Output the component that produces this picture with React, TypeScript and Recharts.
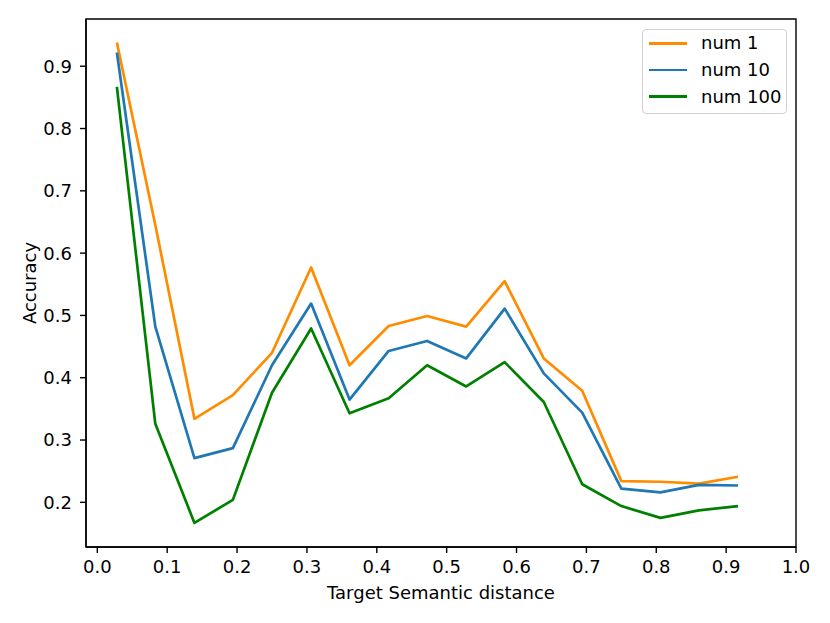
import React from 'react';
import { LineChart, Line, XAxis, YAxis, Legend, ReferenceArea } from 'recharts';

const distances = [0.028, 0.083, 0.139, 0.194, 0.25, 0.306, 0.361, 0.417, 0.472, 0.528, 0.583, 0.639, 0.694, 0.75, 0.806, 0.861, 0.917];
const num1 = [0.938, 0.645, 0.334, 0.372, 0.44, 0.577, 0.42, 0.483, 0.499, 0.482, 0.555, 0.431, 0.379, 0.234, 0.233, 0.23, 0.241];
const num10 = [0.922, 0.482, 0.271, 0.287, 0.42, 0.519, 0.365, 0.443, 0.459, 0.431, 0.511, 0.407, 0.344, 0.222, 0.216, 0.228, 0.227];
const num100 = [0.867, 0.326, 0.167, 0.204, 0.376, 0.479, 0.343, 0.367, 0.42, 0.386, 0.425, 0.361, 0.229, 0.194, 0.175, 0.187, 0.194];
const xTicks = [0, 0.1, 0.2, 0.3, 0.4, 0.5, 0.6, 0.7, 0.8, 0.9, 1.0];
const yTicks = [0.2, 0.3, 0.4, 0.5, 0.6, 0.7, 0.8, 0.9];
const xDomain = [-0.0162, 1.0];
const yDomain = [0.1283, 0.9758];

const seriesNames = ['num 1', 'num 10', 'num 100'];
const seriesColors = ['#ff8c00', '#1f77b4', '#008000'];
const seriesValues = [num1, num10, num100];

const data = distances.map((d, i) => {
  const row: Record<string, number> = { x: d };
  seriesNames.forEach((n, k) => {
    row[n] = seriesValues[k][i];
  });
  return row;
});

const FONT = 'DejaVu Sans, sans-serif';
const FS = 18;
const W = 830;
const H = 623;
const M = { top: 19, right: 34, left: 0, bottom: 0 };
const YW = 86;
const XH = 76;

const tickStyle = { fill: '#000', fontSize: FS, fontFamily: FONT };
const lineStyle = { stroke: '#000', strokeWidth: 1.4 };

const YLabel = () => {
  const cx = 36;
  const cy = M.top + (H - M.top - XH) / 2;
  return (
    <text x={cx} y={cy} transform={`rotate(-90 ${cx} ${cy})`} textAnchor="middle" fill="#000" fontSize={FS} fontFamily={FONT}>
      Accuracy
    </text>
  );
};

const XLabel = () => {
  const cx = YW + (W - YW - M.right) / 2;
  const cy = 598.5;
  return (
    <text x={cx} y={cy} textAnchor="middle" fill="#000" fontSize={FS} fontFamily={FONT}>
      Target Semantic distance
    </text>
  );
};

const LegendBox = (props: any) => {
  const payload = props.payload || [];
  return (
    <div
      style={{
        border: '1px solid #d0d0d0',
        borderRadius: 4,
        background: 'rgba(255,255,255,0.8)',
        padding: '0px 0px 3px 6px',
        fontFamily: FONT,
        fontSize: FS,
        color: '#000',
        boxSizing: 'border-box',
        width: 145,
      }}
    >
      {payload.map((p: any) => (
        <div key={p.value} style={{ display: 'flex', alignItems: 'center', height: 26.7 }}>
          <div style={{ width: 38, height: 2.7, background: p.color, marginRight: 14 }} />
          <span style={{ lineHeight: '20px' }}>{p.value}</span>
        </div>
      ))}
    </div>
  );
};

export default function App() {
  return (
    <div style={{ position: 'absolute', left: 0, top: 0, width: W, height: H, background: '#fff' }}>
      <LineChart width={W} height={H} data={data} margin={M}>
        <XAxis
          dataKey="x"
          type="number"
          domain={xDomain}
          allowDataOverflow
          ticks={xTicks}
          tickFormatter={(v: number) => v.toFixed(1)}
          height={XH}
          tick={tickStyle}
          tickSize={6}
          tickMargin={7.5}
          tickLine={lineStyle}
          axisLine={lineStyle}
          label={<XLabel />}
        />
        <YAxis
          type="number"
          domain={yDomain}
          allowDataOverflow
          ticks={yTicks}
          tickFormatter={(v: number) => v.toFixed(1)}
          width={YW}
          tick={tickStyle}
          tickSize={6}
          tickMargin={8}
          tickLine={lineStyle}
          axisLine={lineStyle}
          label={<YLabel />}
        />
        <ReferenceArea
          x1={xDomain[0]}
          x2={xDomain[1]}
          y1={yDomain[0]}
          y2={yDomain[1]}
          fill="none"
          fillOpacity={0}
          stroke="#000"
          strokeWidth={1.4}
          ifOverflow="visible"
        />
        {seriesNames.map((n, k) => (
          <Line
            key={n}
            type="linear"
            dataKey={n}
            name={n}
            stroke={seriesColors[k]}
            strokeWidth={2.7}
            strokeLinejoin="round"
            dot={false}
            activeDot={false}
            isAnimationActive={false}
          />
        ))}
        <Legend
          content={<LegendBox />}
          layout="horizontal"
          verticalAlign="middle"
          align="center"
          wrapperStyle={{ position: 'absolute', top: 29, left: 642, width: 145 }}
        />
      </LineChart>
    </div>
  );
}
